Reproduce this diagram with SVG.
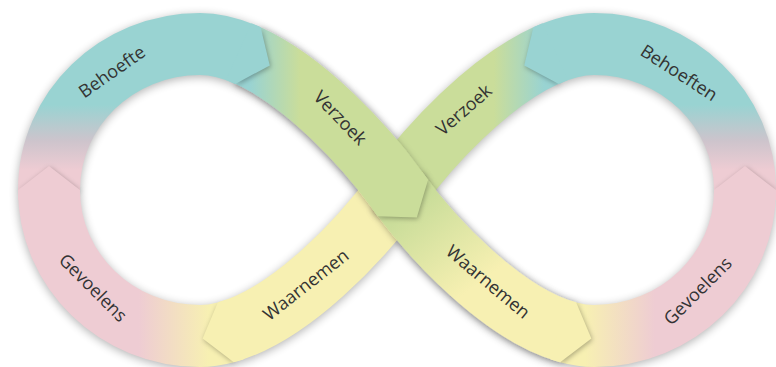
<svg xmlns="http://www.w3.org/2000/svg" width="776" height="367" viewBox="0 0 776 367">
<defs>
<style>
.band{fill:none;stroke-width:62;stroke-linecap:butt}
.lbl{font-family:"Open Sans",Lato,"DejaVu Sans",sans-serif;font-size:18px;fill:#333;text-anchor:middle}
.tsh{fill:#000;fill-opacity:.3}
.teal{fill:#99D3D2}.green{fill:#CADD9A}.yellow{fill:#F7F0B2}.pink{fill:#EECCD3}
</style>
<filter id="blur5" filterUnits="userSpaceOnUse" x="-30" y="-30" width="836" height="427"><feGaussianBlur stdDeviation="5"/></filter>
<filter id="blur3" filterUnits="userSpaceOnUse" x="-30" y="-30" width="836" height="427"><feGaussianBlur stdDeviation="2.5"/></filter>
<filter id="ds" filterUnits="userSpaceOnUse" x="-30" y="-30" width="836" height="427"><feDropShadow dx="0" dy="1" stdDeviation="3" flood-color="#000" flood-opacity="0.3"/></filter>
<linearGradient id="gPT" gradientUnits="userSpaceOnUse" x1="0" y1="170" x2="0" y2="105"><stop offset="0" stop-color="#EECCD3"/><stop offset=".45" stop-color="#CDC4CC"/><stop offset="1" stop-color="#99D3D2"/></linearGradient>
<linearGradient id="g2" gradientUnits="userSpaceOnUse" x1="250" y1="0" x2="300" y2="0"><stop offset="0" stop-color="#99D3D2"/><stop offset="1" stop-color="#CADD9A"/></linearGradient>
<linearGradient id="g6" gradientUnits="userSpaceOnUse" x1="544" y1="0" x2="494" y2="0"><stop offset="0" stop-color="#99D3D2"/><stop offset="1" stop-color="#CADD9A"/></linearGradient>
<linearGradient id="g3" gradientUnits="userSpaceOnUse" x1="410" y1="210" x2="470" y2="290"><stop offset="0" stop-color="#CADD9A"/><stop offset="1" stop-color="#F7F0B2"/></linearGradient>
<linearGradient id="g4" gradientUnits="userSpaceOnUse" x1="585" y1="0" x2="655" y2="0"><stop offset="0" stop-color="#F7F0B2"/><stop offset="1" stop-color="#EECCD3"/></linearGradient>
<linearGradient id="g8" gradientUnits="userSpaceOnUse" x1="209" y1="0" x2="139" y2="0"><stop offset="0" stop-color="#F7F0B2"/><stop offset="1" stop-color="#EECCD3"/></linearGradient>
</defs>
<rect width="776" height="367" fill="#fff"/>

<g id="shadow" transform="translate(0,2)" filter="url(#blur5)" opacity="0.3">
<path d="M397,190 C361,240 290,315.1 225.8,332.3 C217,334.7 208.4,336 200,336 C116.6,336 49,270.6 49,190 C49,109.4 116.6,44 200,44 C215.4,44 231.6,48.3 247.9,55.6 C305.7,81.7 365.1,145.7 397,190 C433,240 504,315.1 568.2,332.3 C577,334.7 585.6,336 594,336 C677.4,336 745,270.6 745,190 C745,109.4 677.4,44 594,44 C578.6,44 562.4,48.3 546.1,55.6 C488.3,81.7 428.9,145.7 397,190 Z" fill="none" stroke="#000" stroke-width="62"/>
</g>

<g id="gevoelens-links">
<path class="band" stroke="url(#g8)" d="M225.8,332.3 C217,334.7 208.4,336 200,336 C116.6,336 49,270.6 49,190"/>
<text class="lbl" transform="translate(93,288) rotate(45)" dy="6">Gevoelens</text>
</g>
<g id="behoefte-links">
<path class="band" stroke="url(#gPT)" d="M49,190 C49,109.4 116.6,44 200,44 C215.4,44 231.6,48.3 247.9,55.6"/>
<text class="lbl" transform="translate(112,72) rotate(-35)" dy="6">Behoefte</text>
</g>
<g id="gevoelens-rechts">
<path class="band" stroke="url(#g4)" d="M568.2,332.3 C577,334.7 585.6,336 594,336 C677.4,336 745,270.6 745,190"/>
<text class="lbl" transform="translate(698,291) rotate(-45)" dy="6">Gevoelens</text>
</g>
<g id="behoeften-rechts">
<path class="band" stroke="url(#gPT)" d="M745,190 C745,109.4 677.4,44 594,44 C578.6,44 562.4,48.3 546.1,55.6"/>
<text class="lbl" transform="translate(679,73) rotate(33)" dy="6">Behoeften</text>
</g>
<g id="verzoek-rechts">
<path class="band" stroke="url(#g6)" d="M546.1,55.6 C488.3,81.7 428.9,145.7 397,190"/>
<text class="lbl" transform="translate(464,110) rotate(-41)" dy="6">Verzoek</text>
</g>
<g id="waarnemen-links">
<path class="band" stroke="#F7F0B2" d="M397,190 C361,240 290,315.1 225.8,332.3"/>
<text class="lbl" transform="translate(306,285) rotate(-38)" dy="6">Waarnemen</text>
</g>
<g id="waarnemen-rechts">
<path class="band" stroke="url(#g3)" filter="url(#ds)" d="M397,190 C433,240 504,315.1 568.2,332.3"/>
<text class="lbl" transform="translate(488,282) rotate(40)" dy="6">Waarnemen</text>
</g>
<g id="verzoek-links">
<path class="band" stroke="url(#g2)" filter="url(#ds)" d="M247.9,55.6 C305.7,81.7 365.1,145.7 397,190 L402.8,198.1"/>
<text class="lbl" transform="translate(340,118) rotate(46)" dy="6">Verzoek</text>
</g>

<g id="connectors">
<g filter="url(#blur3)" transform="translate(1,1.5)">
<polygon class="tsh" points="260.6,27.3 269.8,65.5 235.2,83.9"/>
<polygon class="tsh" points="428,180 416.8,217.6 377.6,216.2"/>
<polygon class="tsh" points="576.2,302.4 591.4,338.5 560.2,362.2"/>
<polygon class="tsh" points="714,190 745,166 776,190"/>
<polygon class="tsh" points="533.4,27.3 524.2,65.5 558.8,83.9"/>
<polygon class="tsh" points="217.8,302.4 202.6,338.5 233.8,362.2"/>
<polygon class="tsh" points="80,190 49,166 18,190"/>
</g>
<polygon class="teal" points="251.5,23.2 260.6,27.3 269.8,65.5 235.2,83.9 226.1,79.8"/>
<polygon class="green" points="371.8,208.1 377.6,216.2 416.8,217.6 428,180 422.2,171.9"/>
<polygon class="yellow" points="566.5,299.8 576.2,302.4 591.4,338.5 560.2,362.2 550.5,359.6"/>
<polygon class="pink" points="714,200 714,190 745,166 776,190 776,200"/>
<polygon class="teal" points="542.5,23.2 533.4,27.3 524.2,65.5 558.8,83.9 567.9,79.8"/>
<polygon class="yellow" points="227.5,299.8 217.8,302.4 202.6,338.5 233.8,362.2 243.5,359.6"/>
<polygon class="pink" points="80,200 80,190 49,166 18,190 18,200"/>
</g>
</svg>
